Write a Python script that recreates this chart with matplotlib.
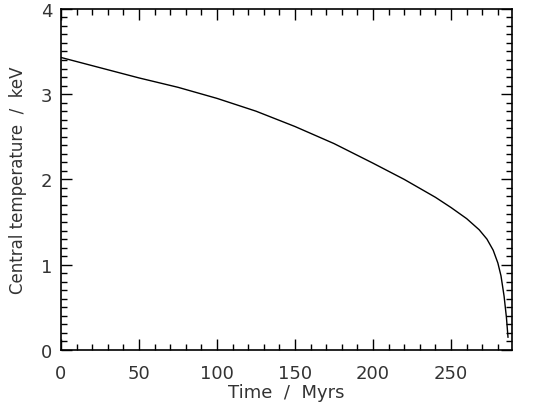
import matplotlib
matplotlib.use("Agg")
import matplotlib.pyplot as plt
from matplotlib.ticker import MultipleLocator

time_myrs = [0, 25, 50, 75, 100, 125, 150, 175, 200, 220, 240, 250, 260,
             268, 273, 277, 280, 282, 284, 285.5, 286.5]
temp_kev = [3.43, 3.31, 3.19, 3.08, 2.95, 2.80, 2.62, 2.42, 2.19, 2.00, 1.79, 1.67, 1.54,
            1.41, 1.30, 1.17, 1.02, 0.87, 0.63, 0.38, 0.15]

xlabel = "Time  /  Myrs"
ylabel = "Central temperature  /  keV"

plt.rcParams['font.family'] = ['DejaVu Sans']
fig = plt.figure(figsize=(5.54, 4.10), dpi=100)
ax = fig.add_axes([0.110, 0.144, 0.814, 0.832])
ax.plot(time_myrs, temp_kev, color='black', lw=1.0)
ax.set_xlim(0, 289)
ax.set_ylim(0, 4)
ax.xaxis.set_major_locator(MultipleLocator(50))
ax.xaxis.set_minor_locator(MultipleLocator(10))
ax.yaxis.set_major_locator(MultipleLocator(1))
ax.yaxis.set_minor_locator(MultipleLocator(0.1))
txtc = '#333333'
ax.tick_params(which='both', direction='in', top=True, right=True, colors='black',
               labelcolor=txtc, labelsize=13, width=1.0)
ax.tick_params(which='major', length=8)
ax.tick_params(axis='x', which='major', pad=10)
ax.tick_params(axis='y', which='major', pad=6)
ax.tick_params(which='minor', length=4)
for s in ax.spines.values():
    s.set_linewidth(1.2)
ax.set_xlabel(xlabel, fontsize=13, color=txtc, labelpad=1)
ax.set_ylabel(ylabel, fontsize=12, color=txtc, labelpad=10)
fig.savefig("out.png", dpi=100)
